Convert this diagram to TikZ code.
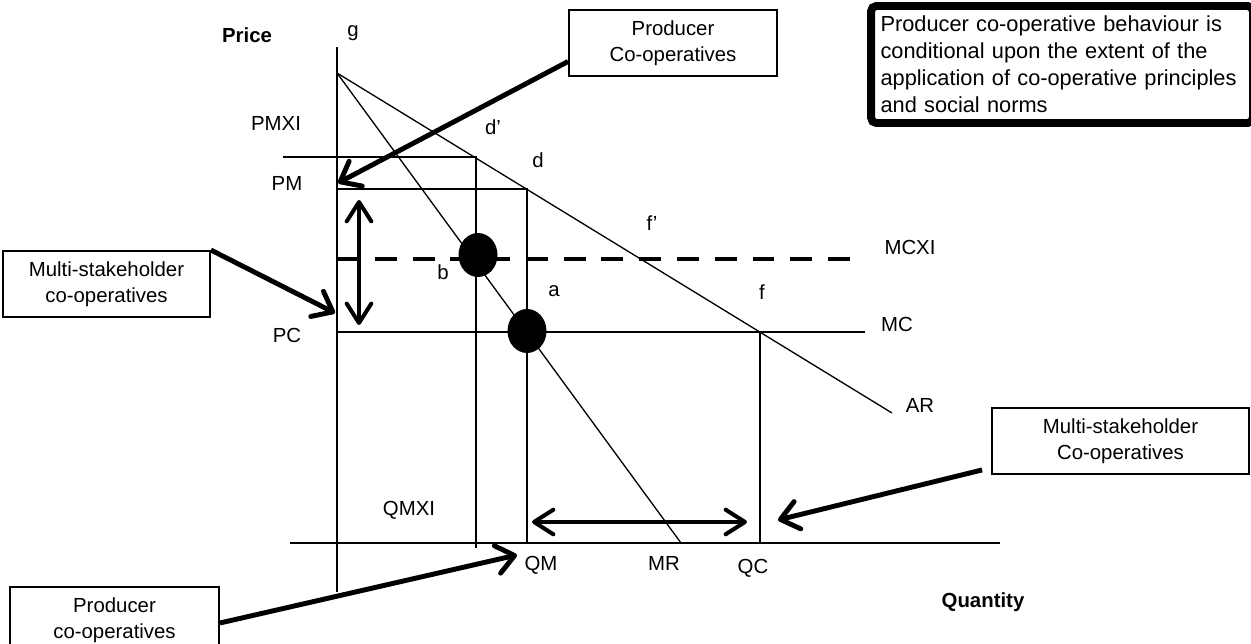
\documentclass[tikz,border=0pt]{standalone}
\usepackage{fontspec}
\setmainfont{Liberation Sans}
\usetikzlibrary{arrows.meta,shapes}

\begin{document}
\begin{tikzpicture}[x=0.02cm,y=-0.02cm,
    font=\fontsize{11.6}{14.7}\selectfont,
    callbox/.style={draw,line width=1.1pt,align=center,minimum height=1.32cm,inner sep=0pt},
    callarrow/.style={line width=2.8pt,-{Straight Barb[length=10pt,width=16pt,round]}},
    dblarrow/.style={line width=2.3pt,{Straight Barb[length=11pt,width=14pt,round]}-{Straight Barb[length=11pt,width=14pt,round]}},
    thin/.style={line width=0.75pt},
    eqdot/.style={ellipse,fill=black,minimum width=0.78cm,minimum height=0.88cm,inner sep=0pt}]
    \useasboundingbox (0,0) rectangle (1251,644);

    % axes
    \coordinate (ytop) at (337,47);
    \coordinate (ybot) at (337,592);
    \coordinate (xl) at (290,543);
    \coordinate (xr) at (1000,543);
    \draw[thin] (ytop) -- (ybot);
    \draw[thin] (xl) -- (xr);

    % demand and revenue curves
    \coordinate (apex) at (337,73);
    \coordinate (arend) at (892,413);
    \coordinate (mrend) at (681,543);
    \draw[thin] (apex) -- (arend);
    \draw[thin] (apex) -- (mrend);

    % price and quantity lines
    \coordinate (pmxil) at (283,157);
    \coordinate (dprime) at (476,157);
    \coordinate (dprimeb) at (476,548);
    \coordinate (pml) at (337,189);
    \coordinate (dpt) at (527,189);
    \coordinate (qm) at (527,543);
    \coordinate (mcl) at (337,332);
    \coordinate (mcr) at (865,332);
    \coordinate (fpt) at (760,332);
    \coordinate (qc) at (760,543);
    \draw[thin] (pmxil) -- (dprime) -- (dprimeb);
    \draw[thin] (pml) -- (dpt) -- (qm);
    \draw[thin] (mcl) -- (mcr);
    \draw[thin] (fpt) -- (qc);

    \coordinate (mcxil) at (337,259);
    \coordinate (mcxir) at (863,259);
    \draw[line width=2.3pt,dash pattern=on 12.5pt off 9pt] (mcxil) -- (mcxir);

    \node[eqdot] (bdot) at (478,255) {};
    \node[eqdot] (adot) at (527,331) {};

    % double arrows
    \coordinate (vtop) at (359,200);
    \coordinate (vbot) at (359,325);
    \coordinate (hl) at (532,522);
    \coordinate (hr) at (747,522);
    \draw[dblarrow] (vtop) -- (vbot);
    \draw[dblarrow] (hl) -- (hr);

    % labels
    \node[font=\fontsize{11.6}{14.7}\selectfont\bfseries] (price) at (247,35) {Price};
    \node (glab) at (353,33) {g};
    \node (pmxi) at (276,123) {PMXI};
    \node (dplab) at (493,127) {d'};
    \node (dlab) at (538,160) {d};
    \node (pm) at (287,183) {PM};
    \node (fplab) at (652,223) {f'};
    \node (mcxi) at (910,247) {MCXI};
    \node (blab) at (443,272) {b};
    \node (alab) at (554,291) {a};
    \node (flab) at (762,292) {f};
    \node (mc) at (897,324) {MC};
    \node (pc) at (287,335) {PC};
    \node (ar) at (920,405) {AR};
    \node (qmxi) at (409,510) {QMXI};
    \node (qmlab) at (541,565) {QM};
    \node (mr) at (664,563) {MR};
    \node (qclab) at (753,568) {QC};
    \node[font=\fontsize{11.6}{14.7}\selectfont\bfseries] (quantity) at (983,602) {Quantity};

    % call-out boxes
    \node[callbox,minimum width=4.16cm] (pcoop) at (673,43) {Producer\\Co-operatives};
    \node[callbox,minimum width=4.14cm] (msleft) at (106.5,284) {Multi-stakeholder\\co-operatives};
    \node[callbox,minimum width=5.14cm] (msright) at (1120.5,441) {Multi-stakeholder\\Co-operatives};
    \node[callbox,minimum width=4.18cm] (pbot) at (114.5,620) {Producer\\co-operatives};
    \node[draw,line width=4.5pt,rounded corners=3pt,minimum width=7.64cm,minimum height=2.34cm,
          text width=7.26cm,align=left,inner xsep=0.19cm,
          font=\fontsize{12.4}{15.3}\selectfont] (note) at (1062,64.5)
        {Producer co-operative behaviour is\\conditional upon the extent of the\\application of co-operative principles\\and social norms};

    % call-out arrows
    \coordinate (pmtip) at (338,183);
    \coordinate (pctip) at (335,313);
    \coordinate (qctip) at (778,520);
    \coordinate (qmtip) at (517,555);
    \draw[callarrow] (pcoop.190) -- (pmtip);
    \draw[callarrow] (msleft.north east) -- (pctip);
    \draw[callarrow] ([xshift=-0.18cm,yshift=0.1cm]msright.south west) -- (qctip);
    \draw[callarrow] ([yshift=-0.06cm]pbot.east) -- (qmtip);
\end{tikzpicture}
\end{document}
